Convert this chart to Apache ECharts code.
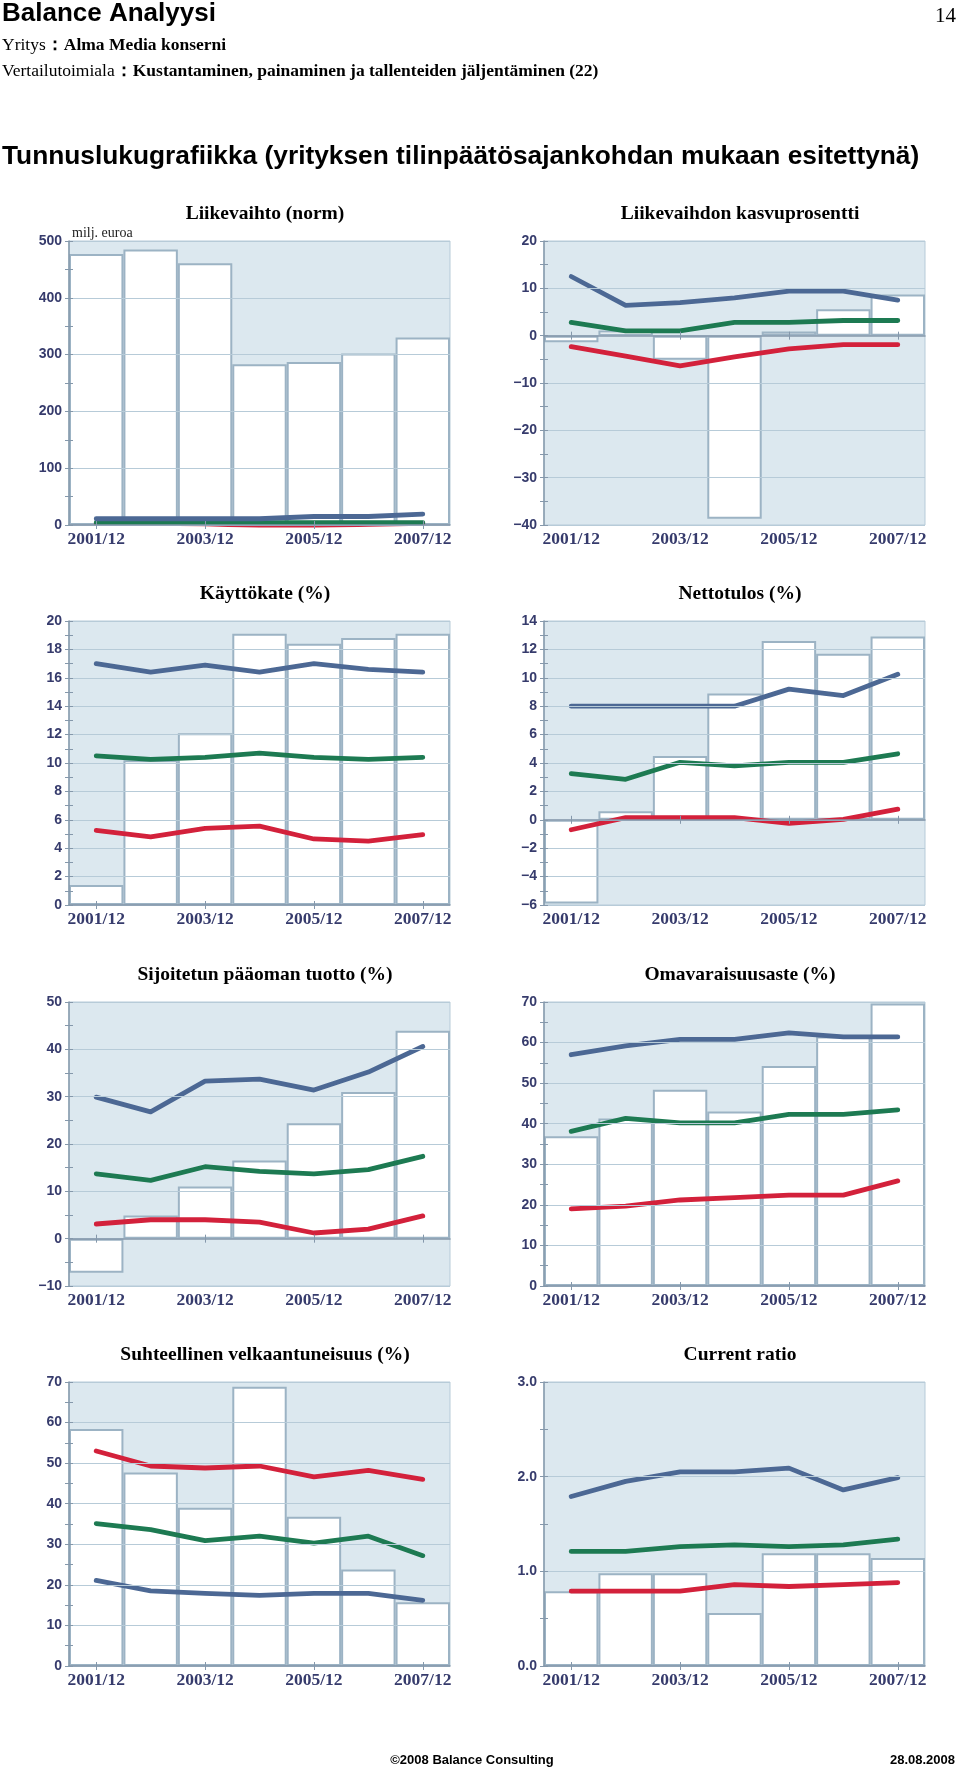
<!DOCTYPE html>
<html>
<head>
<meta charset="utf-8">
<script src="https://cdn.jsdelivr.net/npm/echarts@6/dist/echarts.min.js"></script>
<style>
html,body{margin:0;padding:0;background:#fff;}
#main{width:960px;height:1767px;}
</style>
</head>
<body>
<div id="main"></div>
<script>
// ---- Data ----
const categories = ['2001/12','2002/12','2003/12','2004/12','2005/12','2006/12','2007/12'];

const titles = ['Liikevaihto (norm)','Liikevaihdon kasvuprosentti','Käyttökate (%)','Nettotulos (%)',
  'Sijoitetun pääoman tuotto (%)','Omavaraisuusaste (%)','Suhteellinen velkaantuneisuus (%)','Current ratio'];

// company (bars)
const liikevaihtoBars = [477,485,461,283,287,302,330];
const kasvuBars = [-1.4,1.1,-5.1,-38.7,0.9,5.6,8.7];
const kayttokateBars = [1.4,10.2,12.1,19.1,18.4,18.8,19.1];
const nettotulosBars = [-5.9,0.6,4.5,8.9,12.6,11.7,12.9];
const sijoitetunBars = [-7.2,4.9,11.0,16.5,24.4,31.0,43.9];
const omavaraisuusBars = [36.9,41.3,48.4,43.0,54.2,61.5,69.6];
const velkaBars = [58.4,47.7,39.0,68.8,36.8,23.8,15.7];
const currentBars = [0.79,0.98,0.98,0.56,1.19,1.19,1.14];

// industry lines: blue (upper), green (median), red (lower)
const liikevaihtoBlue = [11,11,11,11,15,15,19];
const liikevaihtoGreen = [4,4,4,4,4,4,4];
const liikevaihtoRed = [3,3,2,-1,-1,1,3];

const kasvuBlue = [12.5,6.4,7.0,8.0,9.4,9.4,7.5];
const kasvuGreen = [2.8,1.0,1.0,2.8,2.8,3.2,3.2];
const kasvuRed = [-2.3,-4.3,-6.4,-4.5,-2.8,-1.9,-1.9];

const kayttokateBlue = [17.0,16.4,16.9,16.4,17.0,16.6,16.4];
const kayttokateGreen = [10.5,10.25,10.4,10.7,10.4,10.25,10.4];
const kayttokateRed = [5.25,4.8,5.4,5.55,4.65,4.5,4.95];

const nettotulosBlue = [8,8,8,8,9.2,8.75,10.25];
const nettotulosGreen = [3.25,2.85,4.05,3.8,4.05,4.05,4.65];
const nettotulosRed = [-0.7,0.15,0.15,0.15,-0.25,0.03,0.75];

const sijoitetunBlue = [29.9,26.8,33.3,33.7,31.4,35.2,40.6];
const sijoitetunGreen = [13.7,12.3,15.2,14.2,13.7,14.6,17.4];
const sijoitetunRed = [3.1,4.0,4.0,3.5,1.2,2.0,4.8];

const omavaraisuusBlue = [57.0,59.2,60.8,60.8,62.4,61.4,61.4];
const omavaraisuusGreen = [38.1,41.3,40.2,40.2,42.3,42.3,43.4];
const omavaraisuusRed = [19.0,19.7,21.2,21.8,22.4,22.4,25.9];

const velkaBlue = [21.1,18.5,17.9,17.4,17.9,17.9,16.2];
const velkaGreen = [35.1,33.6,30.9,32.0,30.3,32.0,27.2];
const velkaRed = [53.0,49.3,48.8,49.3,46.6,48.2,46.0];

const currentBlue = [1.79,1.95,2.05,2.05,2.09,1.86,1.99];
const currentGreen = [1.21,1.21,1.26,1.28,1.26,1.28,1.34];
const currentRed = [0.79,0.79,0.79,0.86,0.84,0.86,0.88];

// axis ranges [min, max, interval, decimals]
const axisRanges = [[0,500,100,0],[-40,20,10,0],[0,20,2,0],[-6,14,2,0],[-10,50,10,0],[0,70,10,0],[0,70,10,0],[0,3,1,1]];

const panels = [
  [liikevaihtoBars, liikevaihtoBlue, liikevaihtoGreen, liikevaihtoRed],
  [kasvuBars, kasvuBlue, kasvuGreen, kasvuRed],
  [kayttokateBars, kayttokateBlue, kayttokateGreen, kayttokateRed],
  [nettotulosBars, nettotulosBlue, nettotulosGreen, nettotulosRed],
  [sijoitetunBars, sijoitetunBlue, sijoitetunGreen, sijoitetunRed],
  [omavaraisuusBars, omavaraisuusBlue, omavaraisuusGreen, omavaraisuusRed],
  [velkaBars, velkaBlue, velkaGreen, velkaRed],
  [currentBars, currentBlue, currentGreen, currentRed]
];

// ---- Styles / layout ----
const BLUE = '#4c6894', GREEN = '#1d7a52', RED = '#d3213b';
const BG = '#dce8ef', BAR_BORDER = '#9cb3c4', GRID_LINE = '#b7cbd8', AXIS = '#8598ab';
const LABEL_COLOR = '#363b6c';
const colLeft = [69, 544];
const rowTop = [241, 621, 1002, 1382];
const PW = 381, PH = 284;
const titleX = [265, 740];

const grids = [], xAxes = [], yAxes = [], series = [], graphics = [];

panels.forEach((p, i) => {
  const col = i % 2, row = Math.floor(i / 2);
  const [mn, mx, iv, dec] = axisRanges[i];
  grids.push({left: colLeft[col], top: rowTop[row], width: PW, height: PH,
    show: true, backgroundColor: BG, borderColor: GRID_LINE, borderWidth: 1});
  const fmt = v => { const s = Math.abs(v).toFixed(dec); return v < 0 ? '\u2212' + s : s; };
  xAxes.push({gridIndex: i, type: 'category', data: categories, boundaryGap: true,
    axisLine: {lineStyle: {color: AXIS, width: 1.5}},
    axisTick: {show: true, alignWithLabel: true, interval: 1, length: 4, lineStyle: {color: AXIS}},
    axisLabel: {interval: 1, margin: 5, color: LABEL_COLOR, fontFamily: '"Liberation Serif", "Times New Roman", serif',
      fontWeight: 'bold', fontSize: 17.5},
    splitLine: {show: false}, z: 10});
  xAxes.push({gridIndex: i, type: 'category', data: categories, boundaryGap: true, position: 'bottom',
    axisLine: {show: false},
    axisTick: {show: true, inside: true, alignWithLabel: true, interval: 1, length: 4, lineStyle: {color: AXIS}},
    axisLabel: {show: false}, splitLine: {show: false}, z: 10});
  yAxes.push({gridIndex: i, type: 'value', min: mn, max: mx, interval: iv,
    axisLine: {show: true, lineStyle: {color: AXIS, width: 1.5}},
    axisTick: {show: true, length: 4, lineStyle: {color: AXIS}},
    minorTick: {show: true, splitNumber: 2, length: 4, lineStyle: {color: AXIS}},
    axisLabel: {formatter: fmt, margin: 7, color: LABEL_COLOR, fontFamily: '"Liberation Sans", Arial, sans-serif',
      fontWeight: 'bold', fontSize: 14},
    splitLine: {show: true, lineStyle: {color: GRID_LINE, width: 1}},
    minorSplitLine: {show: false}, z: 10});
  yAxes.push({gridIndex: i, type: 'value', min: mn, max: mx, interval: iv, position: 'left',
    axisLine: {show: false},
    axisTick: {show: true, inside: true, length: 4, lineStyle: {color: AXIS}},
    minorTick: {show: true, splitNumber: 2, length: 4, lineStyle: {color: AXIS}},
    axisLabel: {show: false}, splitLine: {show: false}, z: 10});
  const xi = 2 * i, yi = 2 * i;
  series.push({type: 'bar', xAxisIndex: xi, yAxisIndex: yi, data: p[0], barCategoryGap: '0%',
    itemStyle: {color: '#ffffff', borderColor: BAR_BORDER, borderWidth: 2}, silent: true, z: 2});
  [[p[3], RED], [p[2], GREEN], [p[1], BLUE]].forEach(([d, c]) => {
    series.push({type: 'line', xAxisIndex: xi, yAxisIndex: yi, data: d, symbol: 'none', silent: true,
      lineStyle: {color: c, width: 4.8, cap: 'round', join: 'round'}, z: 3});
  });
  graphics.push({type: 'text', x: titleX[col], y: rowTop[row] - 27,
    style: {text: titles[i], fill: '#000', align: 'center', verticalAlign: 'middle',
      font: 'bold 19.5px "Liberation Serif", "Times New Roman", serif'}});
});

// header & footer texts
graphics.push({type: 'text', x: 2, y: 14, style: {text: 'Balance Analyysi', fill: '#000', verticalAlign: 'middle',
  font: 'bold 26px "Liberation Sans", Arial, sans-serif'}});
graphics.push({type: 'text', x: 956, y: 16, style: {text: '14', fill: '#000', align: 'right', verticalAlign: 'middle',
  font: '21px "Liberation Serif", "Times New Roman", serif'}});
graphics.push({type: 'text', x: 2, y: 45, style: {text: '{r|Yritys}{b|\uFF1AAlma Media konserni}', verticalAlign: 'middle',
  rich: {r: {fontFamily: '"Liberation Serif", serif', fontSize: 17.5, fill: '#000'},
         b: {fontFamily: '"Liberation Serif", serif', fontSize: 17.5, fontWeight: 'bold', fill: '#000'}}}});
graphics.push({type: 'text', x: 2, y: 71, style: {text: '{r|Vertailutoimiala}{b|\uFF1AKustantaminen, painaminen ja tallenteiden jäljentäminen (22)}', verticalAlign: 'middle',
  rich: {r: {fontFamily: '"Liberation Serif", serif', fontSize: 17.5, fill: '#000'},
         b: {fontFamily: '"Liberation Serif", serif', fontSize: 17.5, fontWeight: 'bold', fill: '#000'}}}});
graphics.push({type: 'text', x: 2, y: 157, style: {text: 'Tunnuslukugrafiikka (yrityksen tilinpäätösajankohdan mukaan esitettynä)',
  fill: '#000', verticalAlign: 'middle', font: 'bold 26.3px "Liberation Sans", Arial, sans-serif'}});
graphics.push({type: 'text', x: 72, y: 233, style: {text: 'milj. euroa', fill: '#222', verticalAlign: 'middle',
  font: '14px "Liberation Serif", serif'}});
graphics.push({type: 'text', x: 472, y: 1760, style: {text: '\u00A92008 Balance Consulting', fill: '#000', align: 'center', verticalAlign: 'middle',
  font: 'bold 13px "Liberation Sans", Arial, sans-serif'}});
graphics.push({type: 'text', x: 955, y: 1760, style: {text: '28.08.2008', fill: '#000', align: 'right', verticalAlign: 'middle',
  font: 'bold 13px "Liberation Sans", Arial, sans-serif'}});

const chart = echarts.init(document.getElementById('main'), null, {renderer: 'canvas'});
chart.setOption({
  animation: false,
  backgroundColor: '#ffffff',
  grid: grids, xAxis: xAxes, yAxis: yAxes, series: series,
  graphic: graphics
});
</script>
</body>
</html>
